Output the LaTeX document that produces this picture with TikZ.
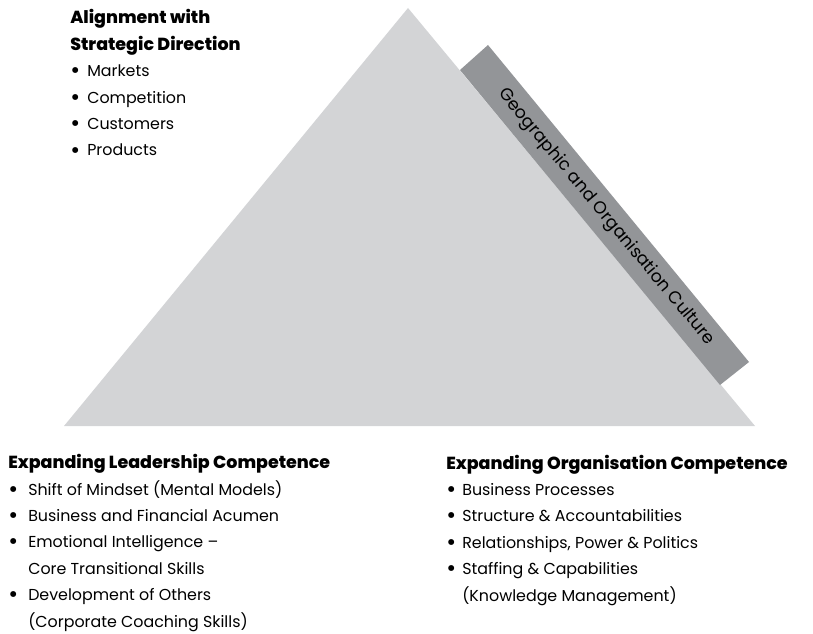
\documentclass[tikz,border=0pt]{standalone}
\usepackage{fontspec}
\setmainfont{Poppins}[BoldFont={Poppins ExtraBold}]
\definecolor{pyramidgray}{RGB}{211,212,214}
\definecolor{bandgray}{RGB}{147,149,152}
\newcommand{\bul}[1][12pt]{\makebox[#1][l]{\raisebox{-1.6pt}{\fontsize{18}{0}\selectfont\textbullet}}}
\newcommand{\headfont}{\fontsize{13.1}{19.8}\selectfont\bfseries}
\tikzset{
  listtext/.style={anchor=base west, inner sep=0pt, align=left, font=\fontsize{11.9}{19.8}\selectfont}
}
\begin{document}
\begin{tikzpicture}[x=0.75pt,y=0.75pt,yscale=-1,xscale=1]
        \useasboundingbox (0,0) rectangle (813,634);
        % pyramid and culture band
        \coordinate (apex) at (408,8);
        \coordinate (baseL) at (64,426);
        \coordinate (baseR) at (755,426);
        \fill [pyramidgray] (apex) -- (baseL) -- (baseR) -- cycle;
        \fill [bandgray] (460,70) -- (488,45) -- (749,362) -- (720,385) -- cycle;
        \draw (606,217) node [rotate=-50.3, font=\fontsize{13}{15}\selectfont] (culture) {Geographic and Organisation Culture};
        % text blocks, anchored on the baseline of their last line
        \draw (70,156) node [listtext] (strategy) {{\headfont Alignment with}\\{\headfont Strategic Direction}\\
            \bul[12.75pt]Markets\\\bul[12.75pt]Competition\\\bul[12.75pt]Customers\\\bul[12.75pt]Products};
        \draw (8,627) node [listtext] (leadership) {{\headfont Expanding Leadership Competence}\\
            \bul[15pt]Shift of Mindset (Mental Models)\\\bul[15pt]Business and Financial Acumen\\
            \bul[15pt]Emotional Intelligence --\\\hspace*{15pt}Core Transitional Skills\\
            \bul[15pt]Development of Others\\\hspace*{15pt}(Corporate Coaching Skills)};
        \draw (446,601) node [listtext] (organisation) {{\headfont Expanding Organisation Competence}\\
            \bul Business Processes\\\bul Structure \& Accountabilities\\\bul Relationships, Power \& Politics\\
            \bul Staffing \& Capabilities\\\hspace*{12pt}(Knowledge Management)};
    \end{tikzpicture}
\end{document}
